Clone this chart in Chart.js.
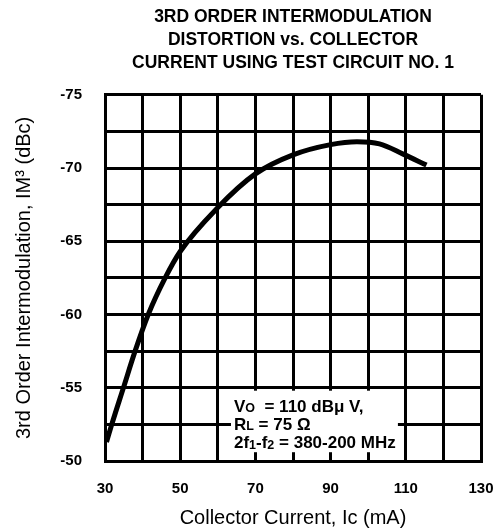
<!DOCTYPE html>
<html>
<head>
<meta charset="utf-8">
<script src="https://cdn.jsdelivr.net/npm/chart.js@4/dist/chart.umd.min.js"></script>
<style>
  html, body { margin: 0; padding: 0; background: #fff; }
  #wrap { width: 501px; height: 532px; }
</style>
</head>
<body>
<div id="wrap"><canvas id="imdChart"></canvas></div>
<script>
// collector current (mA) and 3rd order IM (dBc)
var current = [30.4, 31.8, 34.9, 38, 41.5, 46, 50, 60, 70, 80, 90, 97, 103, 109.3, 115.5];
var im3 = [-51.3, -52.5, -55.0, -57.5, -60.0, -62.5, -64.3, -67.3, -69.6, -70.9, -71.6, -71.8, -71.65, -70.95, -70.2];

var xLabels = [30, 50, 70, 90, 110, 130];
var yLabels = [-75, -70, -65, -60, -55, -50];

var noteBox = { x1: 63.5, x2: 107.9, y1: -54.8, y2: -50.6 };

var FONT = "'Liberation Sans', Arial, sans-serif";

// white note box with the test conditions
var notePlugin = {
    id: 'note',
    afterDatasetsDraw: function(chart) {
        var ctx = chart.ctx;
        var xs = chart.scales.x, ys = chart.scales.y;
        var l = xs.getPixelForValue(noteBox.x1), r = xs.getPixelForValue(noteBox.x2);
        var t = ys.getPixelForValue(noteBox.y1), b = ys.getPixelForValue(noteBox.y2);
        ctx.save();
        ctx.fillStyle = '#fff';
        ctx.fillRect(l, t, r - l, b - t);
        ctx.fillStyle = '#000';
        ctx.textBaseline = 'alphabetic';
        var big = 'bold 17px ' + FONT, small = 'bold 12.5px ' + FONT;
        function run(parts, x, y) {
            parts.forEach(function(p) {
                ctx.font = p[1] ? small : big;
                ctx.fillText(p[0], x, y + (p[2] || 0));
                x += ctx.measureText(p[0]).width;
            });
        }
        var tx = l + 3;
        run([['V', 0], ['O', 1], ['  = 110 dB\u03bc V,', 0]], tx, t + 21);
        run([['R', 0], ['L', 1], [' = 75 \u03a9', 0]], tx, t + 39);
        run([['2f', 0], ['1', 1, 1], ['-f', 0], ['2', 1, 1], [' = 380-200 MHz', 0]], tx, t + 57);
        ctx.restore();
    }
};

var chart = new Chart(document.getElementById('imdChart').getContext('2d'), {
    type: 'line',
    data: {
        datasets: [{
            data: current.map(function(c, i) { return { x: c, y: im3[i] }; }),
            borderColor: '#000',
            borderWidth: 5,
            pointRadius: 0,
            fill: false,
            cubicInterpolationMode: 'monotone'
        }]
    },
    options: {
        responsive: true,
        maintainAspectRatio: false,
        animation: false,
        layout: { padding: { left: 0, right: 20, top: 0, bottom: 0 } },
        plugins: {
            legend: { display: false },
            tooltip: { enabled: false },
            title: {
                display: true,
                fullSize: false,
                text: ['3RD ORDER INTERMODULATION', 'DISTORTION vs. COLLECTOR', 'CURRENT USING TEST CIRCUIT NO. 1'],
                color: '#000',
                font: { family: FONT, size: 17.5, weight: 'bold', lineHeight: 1.31 },
                padding: { top: 6, bottom: 20 }
            }
        },
        scales: {
            x: {
                type: 'linear',
                min: 30,
                max: 130,
                afterFit: function(s) {
                    s.height = 71;
                    s.paddingLeft = 0;
                    s.paddingRight = 0;
                },
                ticks: {
                    stepSize: 10,
                    autoSkip: false,
                    maxRotation: 0,
                    padding: 19,
                    color: '#000',
                    font: { family: FONT, size: 15, weight: 'bold' },
                    callback: function(v) { return xLabels.indexOf(v) >= 0 ? v : ''; }
                },
                grid: { color: '#000', lineWidth: 3, drawTicks: false },
                border: { color: '#000', width: 3 },
                title: {
                    display: true,
                    text: 'Collector Current, Ic (mA)',
                    color: '#000',
                    font: { family: FONT, size: 20 },
                    padding: { top: 2, bottom: 2 }
                }
            },
            y: {
                min: -75,
                max: -50,
                reverse: true,
                afterFit: function(s) { s.width = 105; },
                ticks: {
                    stepSize: 2.5,
                    autoSkip: false,
                    padding: 23,
                    color: '#000',
                    font: { family: FONT, size: 15, weight: 'bold' },
                    callback: function(v) { return yLabels.indexOf(v) >= 0 ? v : ''; }
                },
                grid: { color: '#000', lineWidth: 3, drawTicks: false },
                border: { color: '#000', width: 3 },
                title: {
                    display: true,
                    text: '3rd Order Intermodulation, IM\u00b3 (dBc)',
                    color: '#000',
                    font: { family: FONT, size: 20 },
                    padding: { top: 12, bottom: 2 }
                }
            }
        }
    },
    plugins: [notePlugin]
});
</script>
</body>
</html>
